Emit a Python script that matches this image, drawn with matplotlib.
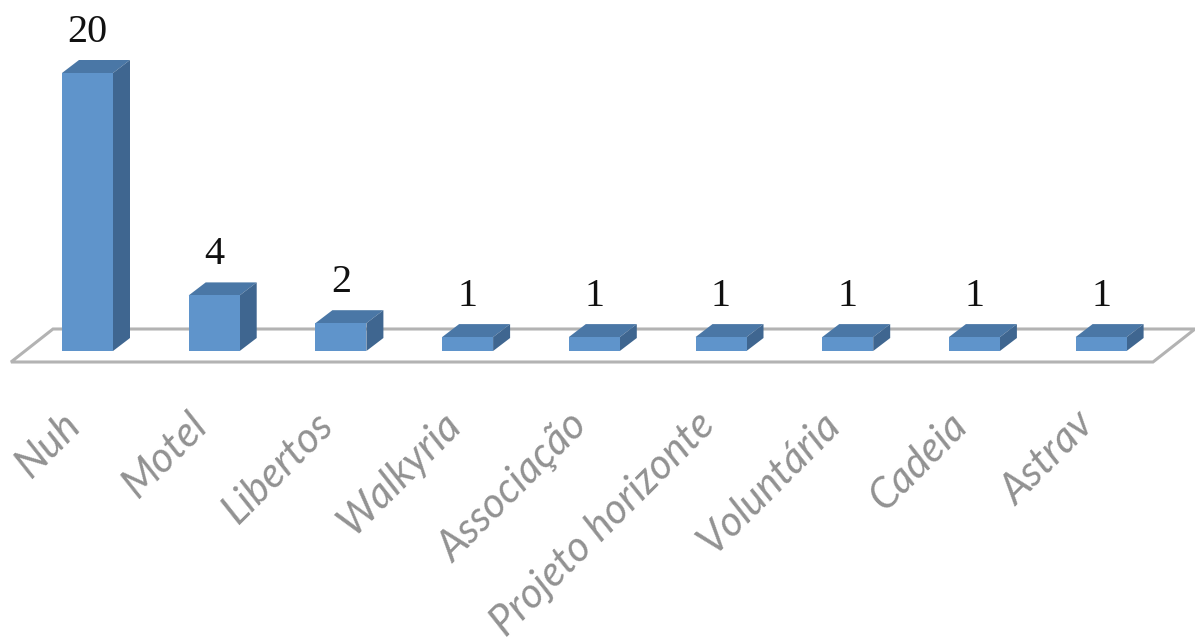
import matplotlib
matplotlib.use("Agg")
import matplotlib.pyplot as plt
from matplotlib.patches import Polygon

categories = ["Nuh", "Motel", "Libertos", "Walkyria", "Associação",
              "Projeto horizonte", "Voluntária", "Cadeia", "Astrav"]
values = [20, 4, 2, 1, 1, 1, 1, 1, 1]

W, H = 1195, 639
x_scale = 126.7  # px per category
y_scale = 13.9   # px per unit
x0_px = 87.5
y0_px = 351

depth_x = 17 / x_scale
depth_y = 13 / y_scale
bar_w = 51 / x_scale

fig = plt.figure(figsize=(W / 100, H / 100), dpi=100)
ax = fig.add_axes([0, 0, 1, 1])
ax.set_xlim(-x0_px / x_scale, (W - x0_px) / x_scale)
ax.set_ylim(-(H - y0_px) / y_scale, y0_px / y_scale)
ax.axis("off")

# floor of the fake 3d box
fl = -11 / y_scale
bk = 22 / y_scale
left = (11 - x0_px) / x_scale
right = (1153 - x0_px) / x_scale
slant = 42 / x_scale
ax.add_patch(Polygon([(left, fl), (right, fl), (right + slant, bk), (left + slant, bk)],
                     closed=True, facecolor="white", edgecolor="#B3B3B3", linewidth=2.2, zorder=1))

bars = ax.bar(range(len(values)), values, width=bar_w, color="#5F94CB", linewidth=0, zorder=3)

for i, (rect, val) in enumerate(zip(bars, values)):
    x1 = rect.get_x()
    x2 = x1 + rect.get_width()
    top = [(x1, val), (x2, val), (x2 + depth_x, val + depth_y), (x1 + depth_x, val + depth_y)]
    side = [(x2, 0), (x2 + depth_x, depth_y), (x2 + depth_x, val + depth_y), (x2, val)]
    ax.add_patch(Polygon(top, closed=True, facecolor="#4A77A6", linewidth=0, zorder=2))
    ax.add_patch(Polygon(side, closed=True, facecolor="#3F6690", linewidth=0, zorder=2))

    ax.annotate(str(val), (i, val), xytext=(0, 31), textcoords="offset pixels",
                ha="center", va="baseline", fontsize=29, color="#111111",
                family="Liberation Serif")
    ax.annotate(categories[i], (i, 0), xytext=(-13, -68), textcoords="offset pixels",
                ha="right", va="center", rotation=45, rotation_mode="anchor",
                fontsize=30, style="italic", color="#929292", family="Lato",
                annotation_clip=False)

plt.savefig("out.png", dpi=100)
